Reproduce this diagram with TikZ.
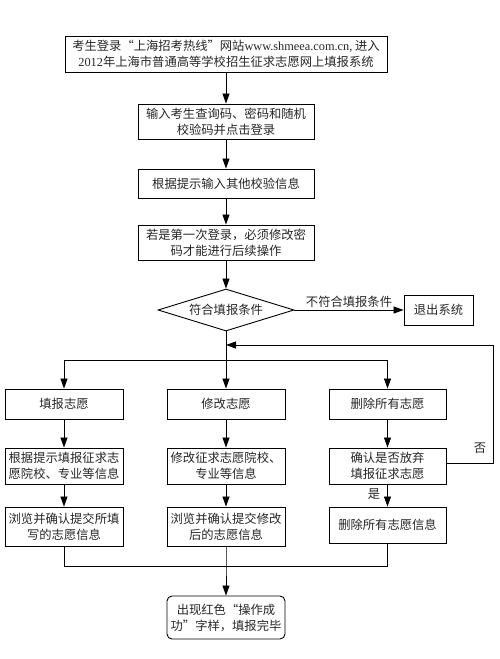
\documentclass[tikz,border=0pt]{standalone}
\usepackage{fontspec}
\setmainfont{Liberation Serif}
\newfontfamily\cjk{Noto Sans CJK SC}
\usetikzlibrary{arrows.meta,shapes.geometric}
\begin{document}
\begin{tikzpicture}[x=1pt,y=-1pt,
  every node/.style={font=\cjk\fontsize{12.3}{16}\selectfont, text=black!85},
  box/.style={draw, line width=0.9pt, inner sep=0pt, align=center},
  arr/.style={-{Triangle[length=10pt,width=7pt]}, line width=0.8pt},
  ln/.style={line width=0.8pt},
  lbl/.style={inner sep=1pt}]
\useasboundingbox (0,0) rectangle (500,659);

\node[box, minimum width=322pt, minimum height=36pt] (n1) at (226,54)
  {考生登录“上海招考热线”网站{\rmfamily www.shmeea.com.cn,} 进入\\{\rmfamily 2012}年上海市普通高等学校招生征求志愿网上填报系统};
\node[box, minimum width=176pt, minimum height=35pt] (n2) at (226,121.5)
  {输入考生查询码、密码和随机\\校验码并点击登录};
\node[box, minimum width=176pt, minimum height=29pt] (n3) at (226,183.5)
  {根据提示输入其他校验信息};
\node[box, minimum width=176pt, minimum height=35pt] (n4) at (226,242.5)
  {若是第一次登录，必须修改密\\码才能进行后续操作};
\node[draw, diamond, line width=0.9pt, inner sep=0pt, aspect=3.2,
  minimum width=136pt, minimum height=42pt] (dia) at (226,310) {符合填报条件};
\node[box, minimum width=69pt, minimum height=30pt] (exit) at (438.5,310) {退出系统};

\node[box, minimum width=118pt, minimum height=30pt] (a1) at (64,404) {填报志愿};
\node[box, minimum width=118pt, minimum height=30pt] (a2) at (226,404) {修改志愿};
\node[box, minimum width=117pt, minimum height=30pt] (a3) at (387.5,404) {删除所有志愿};

\node[box, minimum width=118pt, minimum height=36pt] (b1) at (64,466) {根据提示填报征求志\\愿院校、专业等信息};
\node[box, minimum width=118pt, minimum height=36pt] (b2) at (226,466) {修改征求志愿院校、\\专业等信息};
\node[box, minimum width=117pt, minimum height=36pt] (b3) at (387.5,466) {确认是否放弃\\填报征求志愿};

\node[box, minimum width=118pt, minimum height=39pt] (c1) at (64,526.5) {浏览并确认提交所填\\写的志愿信息};
\node[box, minimum width=118pt, minimum height=39pt] (c2) at (226,526.5) {浏览并确认提交修改\\后的志愿信息};
\node[box, minimum width=117pt, minimum height=36pt] (c3) at (387.5,525) {删除所有志愿信息};

\node[box, rounded corners=5pt, minimum width=118pt, minimum height=43pt] (fin) at (226,617.5)
  {出现红色“操作成\\功”字样，填报完毕};

\coordinate (split) at (226,360);
\coordinate (loopin) at (226,345);
\coordinate (loopTR) at (493,345);
\coordinate (loopBR) at (493,463);
\coordinate (merge) at (226,566);

\draw[arr] (n1) -- (n2);
\draw[arr] (n2) -- (n3);
\draw[arr] (n3) -- (n4);
\draw[arr] (n4) -- (dia);
\draw[arr] (dia.east) -- node[lbl, above=1pt, pos=0.5] {不符合填报条件} (exit.west);
\draw[ln] (dia.south) -- (split);
\draw[ln] (a1.north |- split) -- (a3.north |- split);
\draw[arr] (a1.north |- split) -- (a1.north);
\draw[arr] (split) -- (a2.north);
\draw[arr] (a3.north |- split) -- (a3.north);

\draw[arr] (a1) -- (b1);
\draw[arr] (a2) -- (b2);
\draw[arr] (a3) -- (b3);
\draw[arr] (b1) -- (c1);
\draw[arr] (b2) -- (c2);
\draw[arr] (b3) -- node[lbl, left=6pt, pos=0.45] {是} (c3);

\draw[arr] (b3.east |- loopBR) -- (loopBR) -- (loopTR) -- (loopin);
\node[lbl] (no) at (480,448) {否};

\draw[ln] (c1.south) -- (c1.south |- merge) -- (c3.south |- merge) -- (c3.south);
\draw[arr] (c2.south) -- (merge) -- (fin.north);
\end{tikzpicture}
\end{document}
